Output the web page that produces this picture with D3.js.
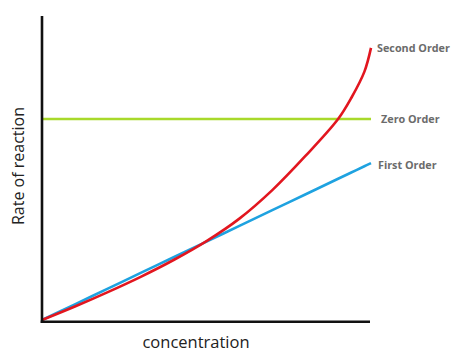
<!DOCTYPE html>
<html><head><meta charset="utf-8">
<script src="https://cdn.jsdelivr.net/npm/d3@7"></script>
<style>body{margin:0;background:#fff}svg{display:block}</style>
</head><body>
<script>
const concentration = [0, 1, 2, 3, 4, 5, 6, 7, 8, 9, 9.4, 9.8, 10];
const secondOrder = [0, 0.45, 0.93, 1.44, 2.0, 2.63, 3.38, 4.33, 5.46, 6.7, 7.4, 8.28, 9.07];
const firstOrder = [0, 0.523, 1.046, 1.569, 2.092, 2.615, 3.138, 3.661, 4.184, 4.707, 4.916, 5.125, 5.23];
const zeroOrder = concentration.map(() => 6.7);
const seriesNames = ["Second Order", "Zero Order", "First Order"];

const W = 474, H = 358;
const svg = d3.select("body").append("svg").attr("width", W).attr("height", H);
const x = d3.scaleLinear().domain([0, 10]).range([42, 371]);
const y = d3.scaleLinear().domain([0, 10]).range([320, 20]);

const series = [
  {name: seriesNames[1], vals: zeroOrder, color: "#a8d92b", lx: 381, ly: 119},
  {name: seriesNames[2], vals: firstOrder, color: "#1ea2e0", lx: 378, ly: 165},
  {name: seriesNames[0], vals: secondOrder, color: "#e2161f", lx: 377, ly: 48}
];
const line = d3.line().x((d, i) => x(concentration[i])).y(d => y(d)).curve(d3.curveCatmullRom.alpha(0.5));
series.forEach(s => {
  svg.append("path").attr("d", line(s.vals)).attr("fill", "none")
    .attr("stroke", s.color).attr("stroke-width", 2.6);
});

// axes
svg.append("line").attr("x1", 42).attr("x2", 42).attr("y1", 16).attr("y2", 323)
  .attr("stroke", "#111").attr("stroke-width", 2.6);
svg.append("line").attr("x1", 40.7).attr("x2", 370).attr("y1", 321.7).attr("y2", 321.7)
  .attr("stroke", "#111").attr("stroke-width", 2.6);

series.forEach(s => {
  svg.append("text").attr("x", s.lx).attr("y", s.ly).attr("dy", "0.35em")
    .attr("font-family", "Open Sans, sans-serif").attr("font-weight", "bold")
    .attr("font-size", 10.8).attr("fill", "#6b6b6b").text(s.name);
});

svg.append("text").attr("transform", "translate(24,166) rotate(-90)")
  .attr("text-anchor", "middle").attr("font-family", "Open Sans, sans-serif")
  .attr("font-size", 16).attr("fill", "#222").text("Rate of reaction");
svg.append("text").attr("x", 196).attr("y", 348).attr("text-anchor", "middle")
  .attr("font-family", "Open Sans, sans-serif").attr("font-size", 16.5)
  .attr("fill", "#222").text("concentration");
</script>
</body></html>
